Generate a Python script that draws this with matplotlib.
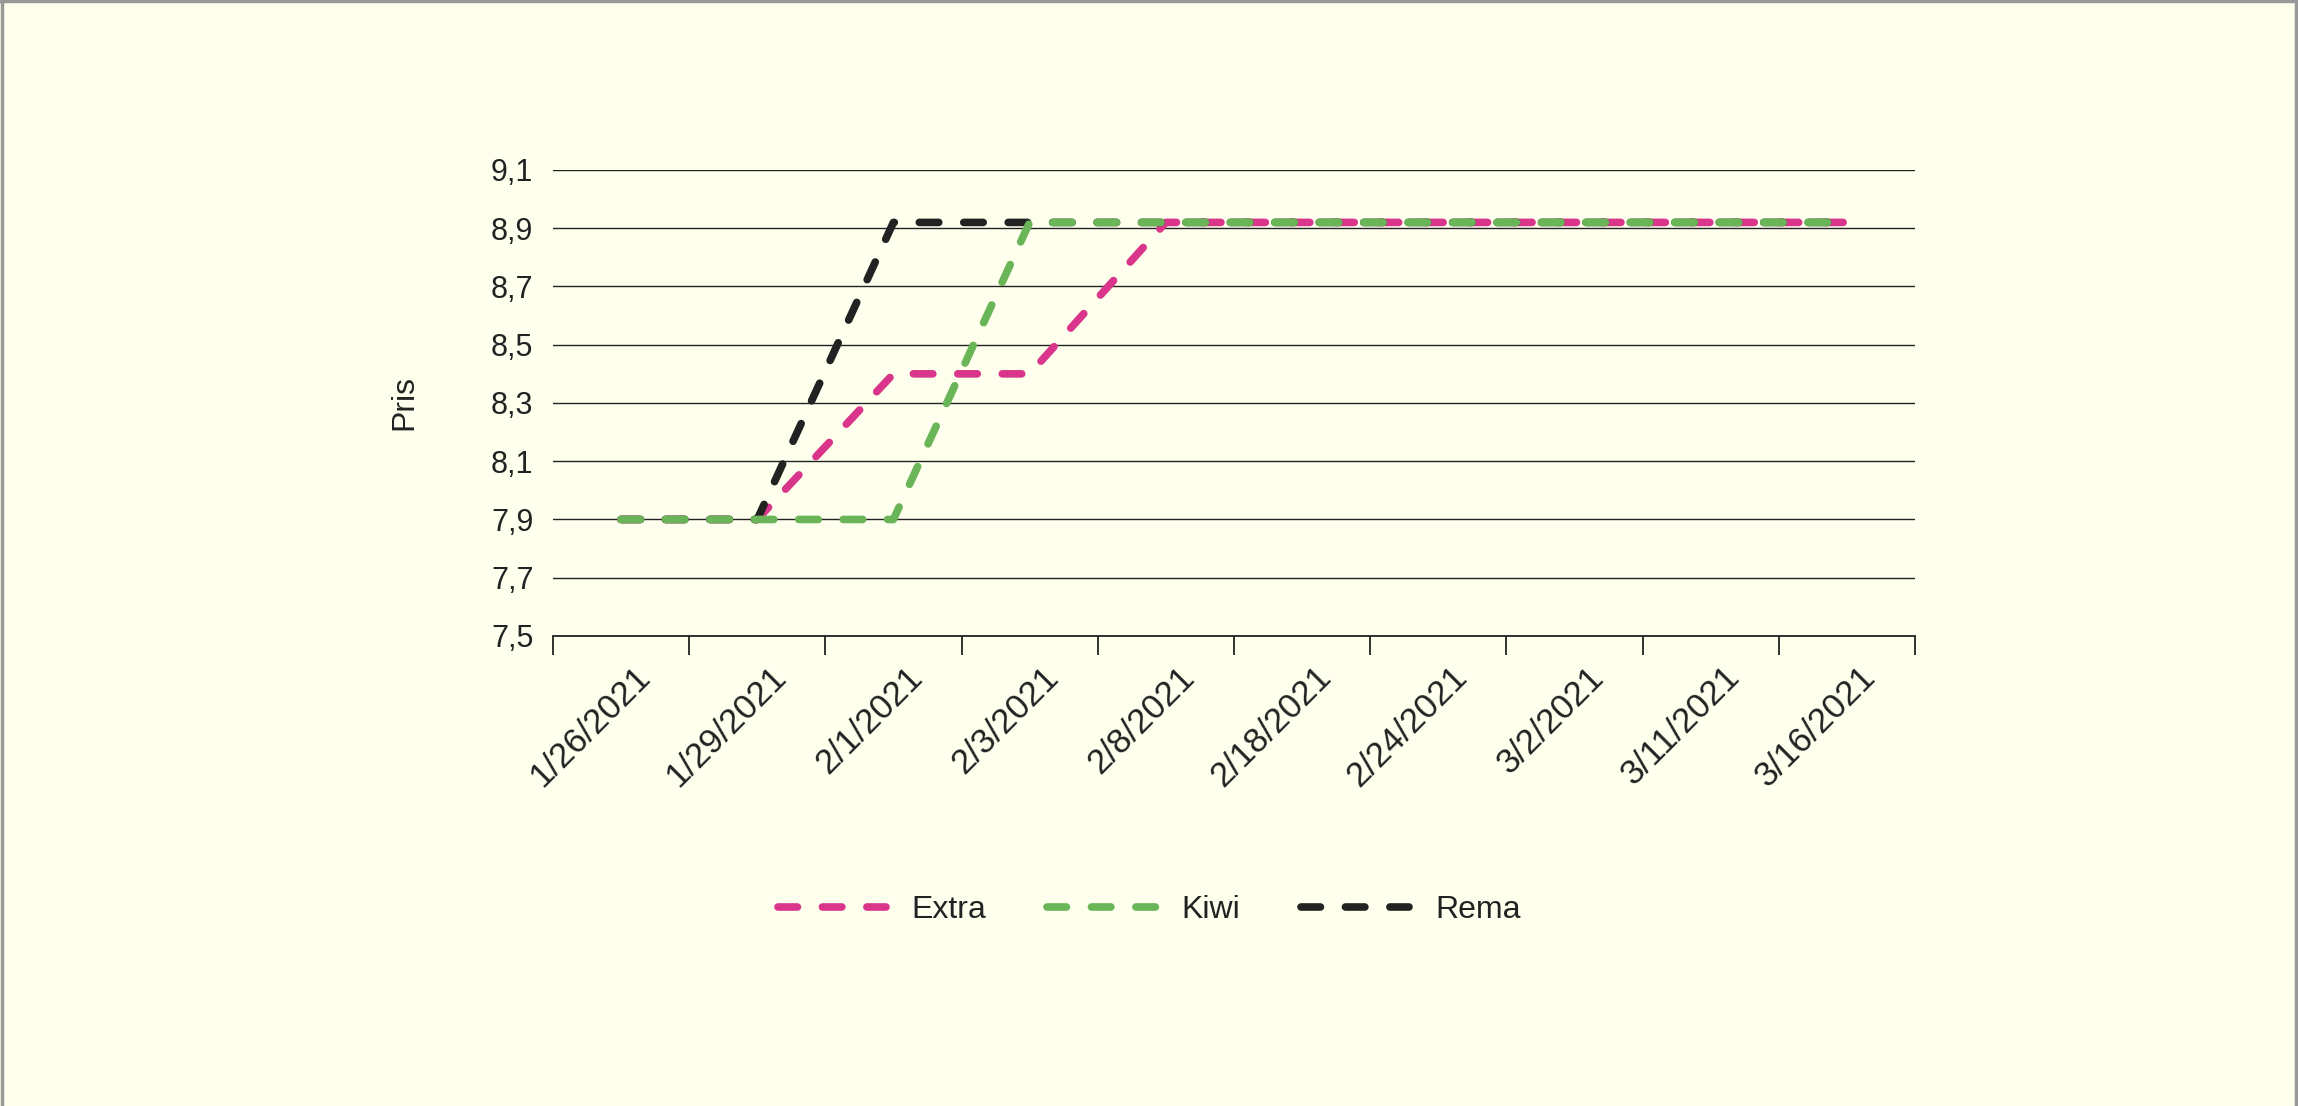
import numpy as np
import matplotlib as mpl

mpl.use("Agg")
import matplotlib.pyplot as plt
import matplotlib.transforms as mtransforms
from matplotlib.lines import Line2D

# data
dates = ["1/26/2021", "1/29/2021", "2/1/2021", "2/3/2021", "2/8/2021",
         "2/18/2021", "2/24/2021", "3/2/2021", "3/11/2021", "3/16/2021"]
extra = [7.9, 7.9, 8.4, 8.4, 8.92, 8.92, 8.92, 8.92, 8.92, 8.92]
kiwi = [7.9, 7.9, 7.9, 8.92, 8.92, 8.92, 8.92, 8.92, 8.92, 8.92]
rema = [7.9, 7.9, 8.92, 8.92, 8.92, 8.92, 8.92, 8.92, 8.92, 8.92]
y_ticks = [7.5, 7.7, 7.9, 8.1, 8.3, 8.5, 8.7, 8.9, 9.1]

BG = "#FFFFEE"
INK = "#222222"
PINK = "#D9368B"
GREEN = "#6AB557"
BLACK = "#222222"

plt.rcParams["font.family"] = ["Liberation Sans", "DejaVu Sans"]
plt.rcParams["lines.scale_dashes"] = False

fig = plt.figure(figsize=(22.98, 11.06), dpi=100, facecolor=BG)
ax = fig.add_axes([0.2406, 0.4250, 0.5927, 0.4213])
ax.set_facecolor(BG)

x = np.arange(len(dates))
dash = (14, 18)
series = [("Extra", extra, PINK, 2), ("Kiwi", kiwi, GREEN, 4), ("Rema", rema, BLACK, 3)]
for name, vals, col, z in series:
    ax.plot(x, vals, color=col, lw=5.5, dashes=dash, dash_capstyle="round",
            solid_capstyle="round", label=name, zorder=z)

ax.set_xlim(-0.5, len(dates) - 0.5)
ax.set_ylim(7.5, 9.1)
ax.set_yticks(y_ticks)
ax.set_yticklabels([f"{v:.1f}".replace(".", ",") for v in y_ticks], fontsize=22, color=INK)
ax.tick_params(axis="y", length=0, pad=14)
ax.yaxis.grid(True, color=INK, lw=1.0)
ax.set_axisbelow(True)

# boundaries get the tick marks, centres carry the labels
ax.set_xticks(np.arange(-0.5, len(dates), 1.0))
ax.set_xticklabels([])
ax.tick_params(axis="x", which="major", length=14, width=1.3, color=INK, direction="out")
ax.set_xticks(x, dates, minor=True)
ax.tick_params(axis="x", which="minor", length=0, pad=26, labelsize=25, labelcolor=INK)
shift = mtransforms.ScaledTranslation(0.24, 0, fig.dpi_scale_trans)
for lab in ax.get_xticklabels(minor=True):
    lab.set_rotation(45)
    lab.set_ha("right")
    lab.set_va("center")
    lab.set_rotation_mode("anchor")
    lab.set_transform(lab.get_transform() + shift)

for s in ("top", "right", "left"):
    ax.spines[s].set_visible(False)
ax.spines["bottom"].set_color(INK)
ax.spines["bottom"].set_linewidth(1.3)

ax.set_ylabel("Pris", fontsize=23, color=INK)
ax.yaxis.set_label_coords(-0.098, 0.5)

fig.legend(loc="center", bbox_to_anchor=(0.5, 0.177), ncol=3, frameon=False,
           fontsize=23, handlelength=3.4, handletextpad=0.8, columnspacing=1.9,
           labelcolor=INK)

# thin grey frame around the figure (left, top, right)
for xs, ys in (([0.001, 0.001], [0, 1]), ([0, 1], [0.999, 0.999]), ([0.999, 0.999], [0, 1])):
    fig.add_artist(Line2D(xs, ys, transform=fig.transFigure, color="#999999", lw=2.5))

fig.savefig("out.png", dpi=100, facecolor=BG)
